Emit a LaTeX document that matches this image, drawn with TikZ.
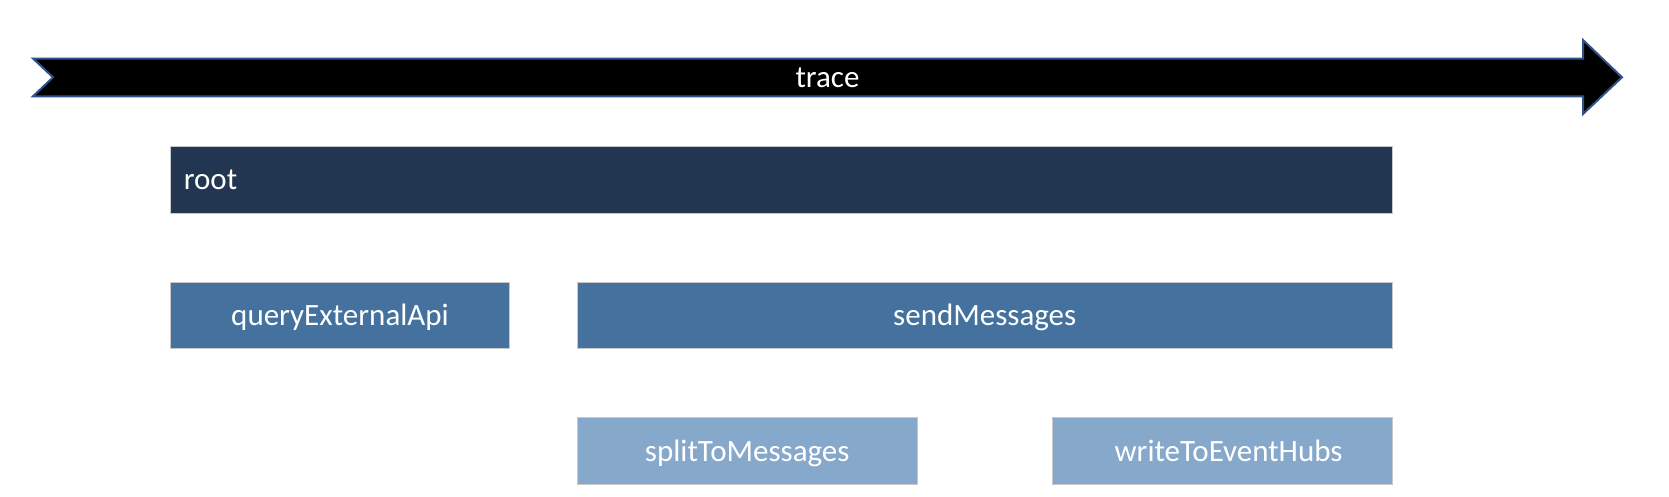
\documentclass[tikz,border=0pt]{standalone}
\usepackage{fontspec}
\setmainfont{Carlito}
\definecolor{rootc}{HTML}{223651}
\definecolor{midc}{HTML}{44719E}
\definecolor{lowc}{HTML}{86A8CB}
\definecolor{edgec}{HTML}{C8C8C8}
\definecolor{arrowedge}{HTML}{2F528F}
\tikzset{
  spantext/.style={text=white, font=\fontsize{31}{37}\selectfont, text height=21pt, text depth=1pt},
  spanbox/.style={spantext, draw=edgec, line width=1pt, anchor=north west, inner sep=0pt},
}
\begin{document}
\begin{tikzpicture}[x=1pt,y=-1pt]
\useasboundingbox (0,0) rectangle (1669,496);
% trace arrow
\draw[fill=black, draw=arrowedge, line width=2pt, line join=miter]
  (33,58.5) -- (1583,58.5) -- (1583,40) -- (1622,77.3) -- (1583,114) -- (1583,96.3)
  -- (33,96.3) -- (53,77.3) -- cycle;
\node[spantext, inner sep=0pt] (trace) at (827.5,77.3) {trace};
% spans
\node[spanbox, fill=rootc, minimum width=1221.5pt, minimum height=66.5pt,
  text width=1195pt, align=left, inner xsep=13pt] (root) at (170,146) {root};
\node[spanbox, fill=midc, minimum width=339pt, minimum height=66.5pt] (query) at (170,281.5) {queryExternalApi};
\node[spanbox, fill=midc, minimum width=814.5pt, minimum height=66.5pt] (send) at (577,281.5) {sendMessages};
\node[spanbox, fill=lowc, minimum width=339.5pt, minimum height=67.5pt] (split) at (577,416.8) {splitToMessages};
\node[spanbox, fill=lowc, minimum width=339.5pt, minimum height=67.5pt, text width=327.5pt, align=center, inner xsep=0pt] (write) at (1052.3,416.8) {\hspace*{12pt}writeToEventHubs};
\end{tikzpicture}
\end{document}
